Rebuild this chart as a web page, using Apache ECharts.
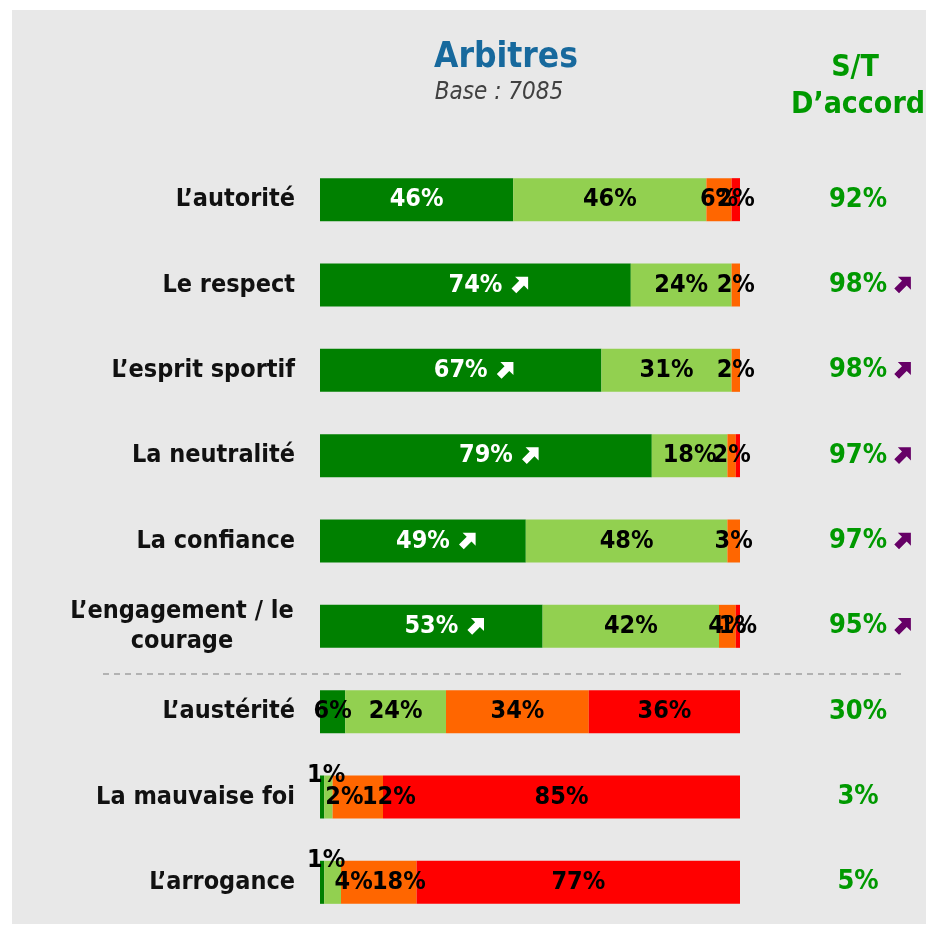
<!DOCTYPE html>
<html>
<head>
<meta charset="utf-8">
<script src="https://cdn.jsdelivr.net/npm/echarts@6/dist/echarts.min.js"></script>
<style>
  html, body { margin: 0; padding: 0; background: #fff; }
  #chart { width: 926px; height: 925px; }
</style>
</head>
<body>
<div id="chart"></div>
<script>
// données
const categories = [
  'L’autorité', 'Le respect', 'L’esprit sportif', 'La neutralité', 'La confiance',
  'L’engagement / le\ncourage', 'L’austérité', 'La mauvaise foi', 'L’arrogance'
];
const toutAFait = [46, 74, 67, 79, 49, 53, 6, 1, 1];
const plutot = [46, 24, 31, 18, 48, 42, 24, 2, 4];
const plutotPas = [6, 2, 2, 2, 3, 4, 34, 12, 18];
const pasDuTout = [2, 0, 0, 1, 0, 1, 36, 85, 77];
const sousTotal = [92, 98, 98, 97, 97, 95, 30, 3, 5];
const hausse = [false, true, true, true, true, true, false, false, false];

const FONT = '"DejaVu Sans Condensed", "DejaVu Sans", sans-serif';

function arrow(color) {
  const svg = '<svg xmlns="http://www.w3.org/2000/svg" width="16" height="16" viewBox="0 0 16 16">' +
    '<path d="M4 1 L15 1 L15 12 L11.5 8.5 L5 15 L1 11 L7.5 4.5 Z" fill="' + color + '"/></svg>';
  return 'data:image/svg+xml;utf8,' + encodeURIComponent(svg);
}
const arrowWhite = arrow('#ffffff');
const arrowPurple = arrow('#660066');

// ajustements des étiquettes (petits segments)
const tweaksDark = {
  6: { color: '#000' },
  7: { position: 'top', distance: -12, offset: [4, 0], color: '#000' },
  8: { position: 'top', distance: -12, offset: [4, 0], color: '#000' }
};
const tweaksPlutot = { 7: { offset: [16, 0] }, 8: { offset: [21, 0] } };
const tweaksPas = { 7: { offset: [31, 0] }, 8: { offset: [20, 0] } };
const tweaksRouge = { 3: { show: false } };

function barSeries(name, values, color, textColor, tweaks, withArrow) {
  return {
    name: name,
    type: 'bar',
    stack: 'total',
    barWidth: 43,
    xAxisIndex: 0,
    yAxisIndex: 0,
    itemStyle: { color: color },
    label: {
      show: true,
      position: 'inside',
      color: textColor,
      fontSize: 25,
      fontWeight: 'bold',
      fontFamily: FONT,
      formatter: p => {
        if (!p.value) return '';
        if (withArrow && hausse[p.dataIndex]) return '{s|}' + p.value + '%{g|}{a|}';
        return p.value + '%';
      },
      rich: {
        s: { width: 27 },
        g: { width: 8 },
        a: { width: 19, height: 19, backgroundColor: { image: arrowWhite } }
      }
    },
    data: values.map((v, i) => tweaks[i] ? { value: v, label: tweaks[i] } : v)
  };
}

const chart = echarts.init(document.getElementById('chart'));

chart.setOption({
  backgroundColor: '#ffffff',
  animation: false,
  graphic: [
    { type: 'rect', z: -10, shape: { x: 12, y: 10, width: 914, height: 914 }, style: { fill: '#e8e8e8' } },
    { type: 'text', x: 506, y: 58, style: { text: 'Arbitres', align: 'center', verticalAlign: 'middle',
      fill: '#17699d', font: 'bold 35px ' + FONT } },
    { type: 'text', x: 499, y: 93, style: { text: 'Base : 7085', align: 'center', verticalAlign: 'middle',
      fill: '#404040', font: 'italic 24px ' + FONT } },
    { type: 'text', x: 855, y: 68, style: { text: 'S/T', align: 'center', verticalAlign: 'middle',
      fill: '#009900', font: 'bold 30px ' + FONT } },
    { type: 'text', x: 858, y: 105, style: { text: 'D’accord', align: 'center', verticalAlign: 'middle',
      fill: '#009900', font: 'bold 30px ' + FONT } },
    { type: 'line', shape: { x1: 103, y1: 674, x2: 905, y2: 674 },
      style: { stroke: '#a0a0a0', lineWidth: 1.5, lineDash: [6, 5] } }
  ],
  grid: [
    { left: 320, width: 420, top: 157, height: 774 },
    { left: 800, width: 116, top: 157, height: 774 }
  ],
  xAxis: [
    { gridIndex: 0, type: 'value', min: 0, max: 100, show: false },
    { gridIndex: 1, type: 'value', min: -1, max: 1, show: false }
  ],
  yAxis: [
    {
      gridIndex: 0,
      type: 'category',
      inverse: true,
      data: categories,
      axisLine: { show: false },
      axisTick: { show: false },
      axisLabel: {
        margin: 25,
        color: '#111',
        fontSize: 25,
        fontWeight: 'bold',
        fontFamily: FONT,
        lineHeight: 30,
        formatter: v => v.indexOf('\n') < 0 ? v : v.split('\n').map(l => '{c|' + l + '}').join('\n'),
        rich: { c: { width: 226, align: 'center', fontSize: 25, fontWeight: 'bold', fontFamily: FONT, color: '#111', lineHeight: 30 } }
      }
    },
    { gridIndex: 1, type: 'category', inverse: true, data: categories, show: false }
  ],
  series: [
    barSeries('Tout à fait', toutAFait, '#008000', '#ffffff', tweaksDark, true),
    barSeries('Plutôt', plutot, '#92d050', '#000000', tweaksPlutot, false),
    barSeries('Plutôt pas', plutotPas, '#ff6600', '#000000', tweaksPas, false),
    barSeries('Pas du tout', pasDuTout, '#ff0000', '#000000', tweaksRouge, false),
    {
      name: 'S/T D’accord',
      type: 'scatter',
      xAxisIndex: 1,
      yAxisIndex: 1,
      symbolSize: 1,
      itemStyle: { color: 'rgba(0,0,0,0)', opacity: 1 },
      label: {
        show: true,
        position: 'inside',
        color: '#009900',
        fontSize: 27,
        fontWeight: 'bold',
        fontFamily: FONT,
        formatter: p => hausse[p.dataIndex]
          ? '{s|}' + sousTotal[p.dataIndex] + '%{g|}{a|}'
          : sousTotal[p.dataIndex] + '%',
        rich: {
          s: { width: 25 },
          g: { width: 6 },
          a: { width: 19, height: 19, backgroundColor: { image: arrowPurple } }
        }
      },
      data: sousTotal.map((v, i) => [0, i])
    }
  ]
});
</script>
</body>
</html>
